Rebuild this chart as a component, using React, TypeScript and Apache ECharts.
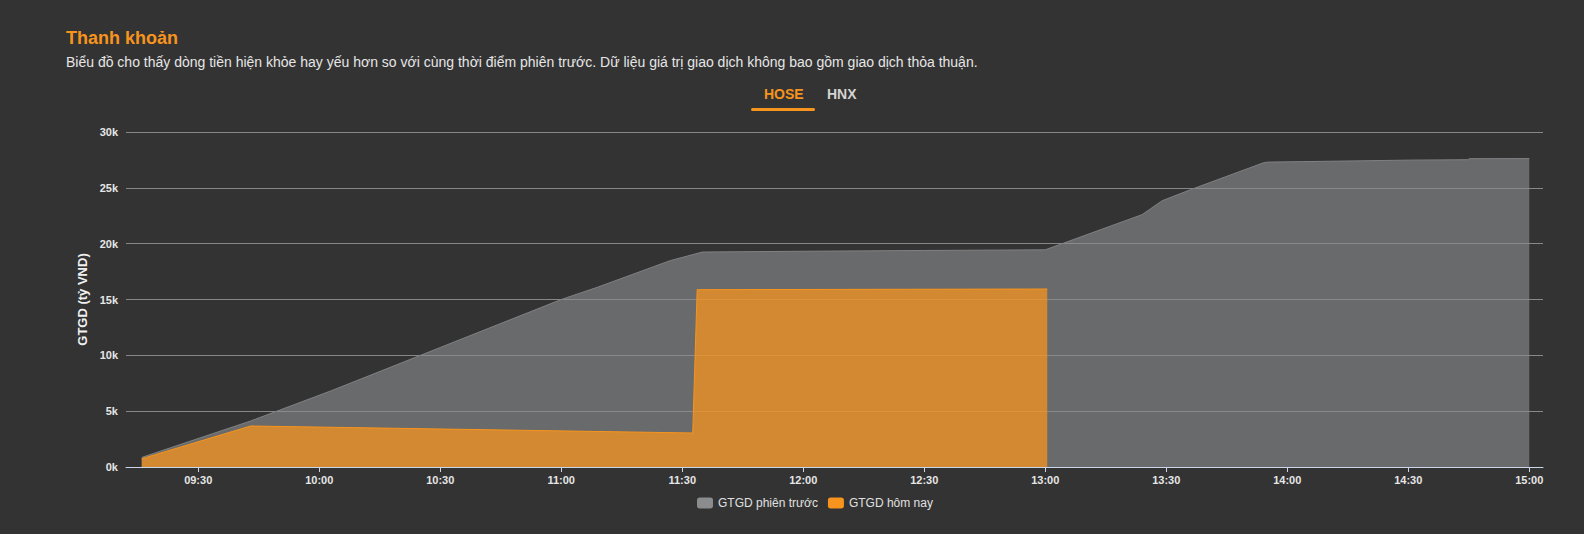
import React, { useEffect, useRef } from "react";
import * as echarts from "echarts";

const FONT = "'Liberation Sans', Arial, sans-serif";

const prevTimes = ["09:16", "09:43", "10:03", "10:30", "11:00", "11:09", "11:27", "11:35", "12:00", "12:30", "13:00", "13:24", "13:29", "13:36", "13:54", "13:55", "14:30", "14:44:40", "14:45:10", "15:00"];
const prevValues = [860, 4120, 6830, 10700, 15000, 16100, 18480, 19250, 19320, 19390, 19450, 22600, 23850, 24830, 27230, 27300, 27480, 27520, 27610, 27620];

const todayTimes = ["09:16", "09:43", "11:32:36", "11:33:42", "13:00:30"];
const todayValues = [743, 3672, 3045, 15880, 15940];

const xTickLabels = ["09:30", "10:00", "10:30", "11:00", "11:30", "12:00", "12:30", "13:00", "13:30", "14:00", "14:30", "15:00"];
const yTicks = [0, 5000, 10000, 15000, 20000, 25000, 30000];

const seriesNames = ["GTGD phiên trước", "GTGD hôm nay"];
const tabs = ["HOSE", "HNX"];

const toMin = (s: string) => {
  const p = s.split(":").map(Number);
  return p[0] * 60 + p[1] + (p[2] || 0) / 60;
};
const fmtMin = (m: number) => {
  const h = Math.floor(m / 60);
  const mm = Math.round(m - h * 60);
  return String(h).padStart(2, "0") + ":" + String(mm).padStart(2, "0");
};

export default function App() {
  const ref = useRef<HTMLDivElement>(null);
  useEffect(() => {
    if (!ref.current) return;
    const chart = echarts.init(ref.current, null, { renderer: "svg" });
    const tickVals = xTickLabels.map(toMin);
    chart.setOption({
      animation: false,
      backgroundColor: "#333333",
      textStyle: { fontFamily: FONT },
      title: {
        text: "Thanh khoản",
        subtext: "Biểu đồ cho thấy dòng tiền hiện khỏe hay yếu hơn so với cùng thời điểm phiên trước. Dữ liệu giá trị giao dịch không bao gồm giao dịch thỏa thuận.",
        left: 61,
        top: 24,
        itemGap: 8,
        textStyle: { color: "#f7941d", fontSize: 18, fontWeight: "bold", fontFamily: FONT },
        subtextStyle: { color: "#e6e6e6", fontSize: 14, fontFamily: FONT },
      },
      graphic: [
        {
          type: "text",
          left: 764,
          top: 87,
          style: { text: tabs[0], fill: "#f7941d", font: "bold 14px " + FONT },
        },
        {
          type: "text",
          left: 827,
          top: 87,
          style: { text: tabs[1], fill: "#d4d4d4", font: "bold 14px " + FONT },
        },
        {
          type: "rect",
          shape: { x: 751, y: 108, width: 64, height: 3, r: 1.5 },
          style: { fill: "#f7941d" },
        },
      ],
      legend: {
        left: 692,
        top: 492,
        itemWidth: 16,
        itemHeight: 11,
        itemGap: 10,
        icon: "roundRect",
        textStyle: { color: "#e0e0e0", fontSize: 12, fontFamily: FONT },
        data: seriesNames,
      },
      grid: { left: 126, right: 41, top: 132, bottom: 67, containLabel: false },
      xAxis: {
        type: "value",
        min: 552.1,
        max: 903.4,
        axisLine: { show: true, lineStyle: { color: "#ccd6eb", width: 1 } },
        axisTick: { show: true, length: 5, lineStyle: { color: "#ccd6eb" }, customValues: tickVals },
        axisLabel: {
          color: "#e6e6e6",
          fontSize: 11,
          fontWeight: "bold",
          fontFamily: FONT,
          margin: 7,
          customValues: tickVals,
          formatter: (v: number) => fmtMin(v),
        },
        splitLine: { show: false },
      },
      yAxis: {
        type: "value",
        min: 0,
        max: 30000,
        interval: 5000,
        name: "GTGD (tỷ VND)",
        nameLocation: "middle",
        nameGap: 34,
        nameTextStyle: { color: "#f0f0f0", fontSize: 13, fontWeight: "bold", fontFamily: FONT },
        axisLine: { show: false },
        axisTick: { show: false },
        axisLabel: {
          color: "#e6e6e6",
          fontSize: 11,
          fontWeight: "bold",
          fontFamily: FONT,
          margin: 8,
          formatter: (v: number) => (yTicks.includes(v) ? v / 1000 + "k" : ""),
        },
        splitLine: { show: true, lineStyle: { color: "#878787", width: 1 } },
      },
      series: [
        {
          name: seriesNames[0],
          type: "line",
          showSymbol: false,
          color: "#8b8c8e",
          lineStyle: { color: "#808184", width: 1 },
          areaStyle: { color: "#8b8c8e", opacity: 0.62 },
          data: prevTimes.map((t, i) => [toMin(t), prevValues[i]]),
          z: 2,
        },
        {
          name: seriesNames[1],
          type: "line",
          showSymbol: false,
          color: "#f7941d",
          lineStyle: { color: "#f7941d", width: 1 },
          areaStyle: { color: "#f7941d", opacity: 0.75 },
          data: todayTimes.map((t, i) => [toMin(t), todayValues[i]]),
          z: 3,
        },
      ],
    });
    return () => chart.dispose();
  }, []);
  return (
    <div
      ref={ref}
      style={{ position: "fixed", left: 0, top: 0, width: 1584, height: 534, background: "#333333" }}
    />
  );
}
